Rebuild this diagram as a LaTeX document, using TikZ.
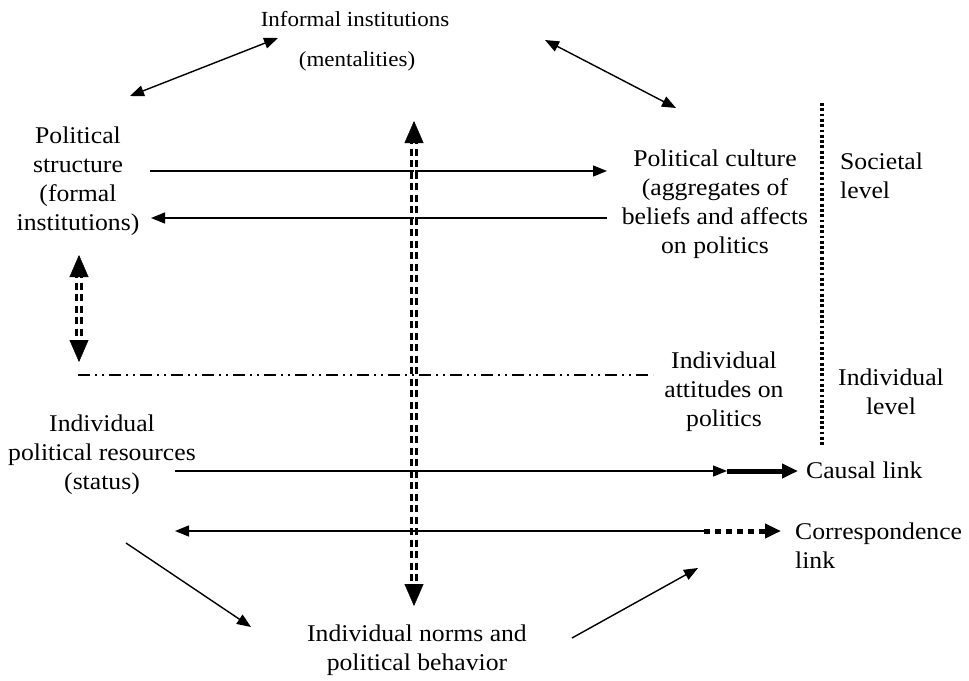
\documentclass[tikz,border=0pt]{standalone}
\usepackage{fontspec}
\setmainfont{Liberation Serif}[FakeStretch=1.07]
\usetikzlibrary{arrows.meta}
\tikzset{
  smalltip/.tip={Triangle[length=14pt,width=11pt]},
  bigtip/.tip={Triangle[length=22pt,width=19pt,color=black]},
  legtip/.tip={Triangle[length=16pt,width=14pt]},
}
\begin{document}
\begin{tikzpicture}[x=1pt,y=-1pt,
  lbl/.style={align=center, font=\fontsize{24}{29}\selectfont, inner sep=0pt},
  toplbl/.style={align=center, font=\fontsize{21.5}{26}\selectfont, inner sep=0pt},
  lbll/.style={align=left, font=\fontsize{24}{29}\selectfont, inner sep=0pt, anchor=west},
  thinline/.style={line width=1.4pt},
  ddash/.style={line width=2.6pt, dash pattern=on 7pt off 4.5pt},
  dashdotdot/.style={line width=1.8pt, dash pattern=on 12pt off 5pt on 2pt off 5pt on 2pt off 5pt},
  sepline/.style={line width=3.3pt, dash pattern=on 2.8pt off 2.5pt},
  >=smalltip]
\useasboundingbox (0,0) rectangle (969,680);

% text nodes
\node[toplbl] (inf) at (355,19) {Informal institutions};
\node[toplbl] (ment) at (357,61) {(mentalities)};
\node[lbl] (ps) at (78,181) {Political\\structure\\(formal\\institutions)};
\node[lbl] (pc) at (715,204) {Political culture\\(aggregates of\\beliefs and affects\\on politics};
\node[lbll] (soc) at (840,176) {Societal\\level};
\node[lbl] (ia) at (724,392) {Individual\\attitudes on\\politics};
\node[lbl] (il) at (891,392) {Individual\\level};
\node[lbl] (ipr) at (102,455) {Individual\\political resources\\(status)};
\node[lbll] (cl) at (806,470) {Causal link};
\node[lbll] (corl) at (795,546) {Correspondence\\link};
\node[lbl] (inb) at (417,650) {Individual norms and\\political behavior};

% coordinates
\coordinate (tl1) at (130,96);
\coordinate (tl2) at (278,38);
\coordinate (tr1) at (545,40);
\coordinate (tr2) at (676,108);
\coordinate (a1s) at (150,171);
\coordinate (a1e) at (607,171);
\coordinate (a2s) at (607,218);
\coordinate (a2e) at (151,218);
\coordinate (sept) at (822,103);
\coordinate (sepb) at (822,447);
\coordinate (lvt) at (79,255);
\coordinate (lvb) at (79,362);
\coordinate (ddl) at (78,375);
\coordinate (ddr) at (653,375);
\coordinate (cvt) at (414,121);
\coordinate (cvb) at (414,606);
\coordinate (cs) at (175,471);
\coordinate (cm) at (727,471);
\coordinate (ce) at (798,471);
\coordinate (rs) at (175,531);
\coordinate (rm) at (704,531);
\coordinate (re) at (781,531);
\coordinate (d1s) at (126,543);
\coordinate (d1e) at (251,627);
\coordinate (d2s) at (572,638);
\coordinate (d2e) at (698,568);

% top arrows
\draw[thinline,<->] (tl1) -- (tl2);
\draw[thinline,<->] (tr1) -- (tr2);
% structure <-> culture
\draw[thinline,->] (a1s) -- (a1e);
\draw[thinline,->] (a2s) -- (a2e);
% level separator
\draw[sepline] (sept) -- (sepb);
% left vertical double dashed arrow
\draw[white,line width=0.4pt,bigtip-bigtip] (lvt) -- (lvb);
\draw[ddash,shorten <=16pt,shorten >=16pt] ([xshift=-2.3pt]lvt) -- ([xshift=-2.3pt]lvb);
\draw[ddash,shorten <=16pt,shorten >=16pt] ([xshift=2.3pt]lvt) -- ([xshift=2.3pt]lvb);
% dash dot line
\draw[dashdotdot] (ddl) -- (ddr);
% central vertical double dashed arrow
\draw[white,line width=0.4pt,bigtip-bigtip] (cvt) -- (cvb);
\draw[ddash,shorten <=16pt,shorten >=16pt] ([xshift=-2.3pt]cvt) -- ([xshift=-2.3pt]cvb);
\draw[ddash,shorten <=16pt,shorten >=16pt] ([xshift=2.3pt]cvt) -- ([xshift=2.3pt]cvb);
% causal
\draw[thinline,->] (cs) -- (cm);
\draw[line width=5pt,-legtip] (cm) -- (ce);
% correspondence
\draw[thinline,<-] (rs) -- (rm);
\draw[line width=5pt,dash pattern=on 6pt off 5pt,-legtip] (rm) -- (re);
% diagonals
\draw[thinline,->] (d1s) -- (d1e);
\draw[thinline,->] (d2s) -- (d2e);
\end{tikzpicture}
\end{document}
